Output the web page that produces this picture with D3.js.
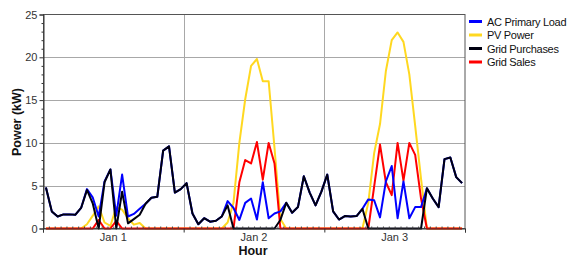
<!DOCTYPE html>
<html><head><meta charset="utf-8">
<script src="https://cdn.jsdelivr.net/npm/d3@7"></script>
<style>body{margin:0;background:#fff;}svg{display:block;}text{font-family:"Liberation Sans",Arial,sans-serif;}</style>
</head><body><svg id="c" width="567" height="257"></svg>
<script>
const seriesNames = ["AC Primary Load","PV Power","Grid Purchases","Grid Sales"];
const seriesColors = ["#0000ff","#ffd820","#000010","#ff0000"];
const dayLabels = ["Jan 1","Jan 2","Jan 3"];
const yTicks = [0,5,10,15,20,25];

const gridPurchases = [4.8,2.0,1.4,1.65,1.65,1.6,2.4,4.5,2.9,0,5.4,6.9,0,4.3,0.6,1.1,1.6,2.9,3.6,3.7,9.1,9.6,4.2,4.6,
  5.3,1.75,0.5,1.2,0.8,0.9,1.4,2.7,0,0,0,0,0,0,0,0,1.0,3.0,1.85,2.5,6.1,4.2,2.7,4.3,
  6.3,2.0,1.05,1.45,1.4,1.45,2.3,0,0,0,0,0,0,0,0,0,0,4.7,3.5,2.5,8.1,8.3,6.0,5.3];
const acLoad = [4.8,2.0,1.4,1.65,1.65,1.6,2.4,4.6,3.6,1.4,5.5,6.9,1.5,6.3,1.4,1.7,2.3,2.9,3.6,3.7,9.1,9.6,4.2,4.6,
  5.3,1.75,0.5,1.2,0.8,0.9,1.4,3.2,2.4,1.0,3.0,3.5,1.05,5.4,1.2,1.75,2.0,3.0,1.85,2.5,6.1,4.2,2.7,4.3,
  6.3,2.0,1.05,1.45,1.4,1.45,2.3,3.4,3.3,1.3,5.5,7.3,1.2,5.5,1.2,2.5,2.5,4.7,3.5,2.5,8.1,8.3,6.0,5.3];
const pvPower = [0,0,0,0,0,0,0,0.5,1.5,2.6,0.7,0.3,2.5,2.2,1.2,0.45,0.65,0,0,0,0,0,0,0,
  0,0,0,0,0,0,0,0.7,3.0,10.0,15.1,19.0,19.8,17.2,17.2,9.4,1.1,0,0,0,0,0,0,0,
  0,0,0,0,0,0,0,3.0,8.8,12.2,18.4,22.0,22.9,21.8,18.0,12.0,5.8,0,0,0,0,0,0,0];
const gridSales = [0,0,0,0,0,0,0,0,0,1.0,0,0,0.9,0,0,0,0,0,0,0,0,0,0,0,
  0,0,0,0,0,0,0,0,0,5.4,8.0,7.6,10.1,5.7,10.0,7.6,0,0,0,0,0,0,0,0,
  0,0,0,0,0,0,0,0,4.9,9.8,5.4,3.9,10.0,5.6,10.0,8.6,3.5,0,0,0,0,0,0,0];

const svg = d3.select("#c");
const L=43, R=465, T=14.5, B=228.5;
const x = d3.scaleLinear().domain([0,72]).range([L,R]);
const y = d3.scaleLinear().domain([0,25]).range([B,T]);

// gridlines
svg.append("g").selectAll("line").data([5,10,15,20]).join("line")
  .attr("x1",L).attr("x2",R).attr("y1",d=>Math.round(y(d))+0.5).attr("y2",d=>Math.round(y(d))+0.5)
  .attr("stroke","#a8a8a8").attr("stroke-width",1);
svg.append("g").selectAll("line").data([24,48]).join("line")
  .attr("y1",T).attr("y2",B).attr("x1",d=>Math.round(x(d))+0.5).attr("x2",d=>Math.round(x(d))+0.5)
  .attr("stroke","#a8a8a8").attr("stroke-width",1);
// frame
svg.append("rect").attr("x",L+0.5).attr("y",T).attr("width",R-L-0.5).attr("height",B-T)
  .attr("fill","none").attr("stroke","#555").attr("stroke-width",1);

// lines
const series = [pvPower, gridSales, acLoad, gridPurchases];
const cols = [seriesColors[1], seriesColors[3], seriesColors[0], seriesColors[2]];
const line = d3.line().x((d,i)=>x(i+0.5)).y(d=>y(d));
series.forEach((s,k)=>{
  svg.append("path").datum(s).attr("d",line).attr("fill","none")
    .attr("stroke",cols[k]).attr("stroke-width",2).attr("stroke-linejoin","round");
});

// y axis
const yAxis = d3.axisLeft(y).tickValues(yTicks).tickSize(4).tickPadding(2);
const gy = svg.append("g").attr("transform",`translate(${L+0.5},0)`).call(yAxis);
gy.select(".domain").attr("stroke","#333");
gy.selectAll(".tick line").attr("stroke","#333");
gy.selectAll("text").attr("font-size",11).attr("fill","#333").attr("font-family","Liberation Sans, Arial, sans-serif");
const gym = svg.append("g").attr("transform",`translate(${L+0.5},0)`)
  .call(d3.axisLeft(y).tickValues(d3.range(0,26).filter(v=>v%5)).tickSize(2).tickFormat(""));
gym.select(".domain").remove();
gym.selectAll(".tick line").attr("stroke","#333");

// x axis
const gx = svg.append("g").attr("transform",`translate(0,${B})`)
  .call(d3.axisBottom(x).tickValues([0,24,48,72]).tickSize(4).tickFormat(""));
gx.select(".domain").attr("stroke","#333");
gx.selectAll(".tick line").attr("stroke","#333");
const gxm = svg.append("g").attr("transform",`translate(0,${B})`)
  .call(d3.axisTop(x).tickValues(d3.range(1,72).filter(v=>v%24)).tickSize(2).tickFormat(""));
gxm.select(".domain").remove();
gxm.selectAll(".tick line").attr("stroke","#444");
svg.append("g").selectAll("text").data(dayLabels).join("text")
  .attr("x",(d,i)=>x(i*24+12)).attr("y",241).attr("text-anchor","middle")
  .attr("font-size",11).attr("fill","#333").text(d=>d);

// titles
svg.append("text").attr("x",253).attr("y",255).attr("text-anchor","middle")
  .attr("font-size",12.5).attr("font-weight","bold").attr("fill","#111").text("Hour");
svg.append("text").attr("transform","translate(21,122) rotate(-90)").attr("text-anchor","middle")
  .attr("font-size",12.5).attr("font-weight","bold").attr("fill","#111").text("Power (kW)");

// legend
const lg = svg.append("g").selectAll("g").data(seriesNames).join("g")
  .attr("transform",(d,i)=>`translate(469,${21.5+i*13.5})`);
lg.append("line").attr("x1",0).attr("x2",13).attr("y1",0).attr("y2",0)
  .attr("stroke",(d,i)=>seriesColors[i]).attr("stroke-width",3);
lg.append("text").attr("x",18).attr("y",4).attr("font-size",11).attr("letter-spacing",-0.3)
  .attr("fill","#111").text(d=>d);
</script></body></html>
